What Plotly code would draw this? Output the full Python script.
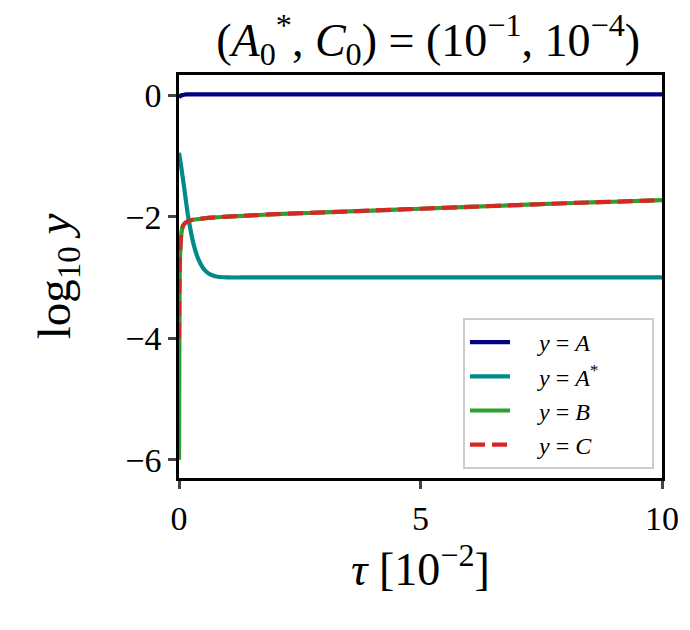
import plotly.graph_objects as go

tau = [0, 0.01, 0.02, 0.04, 0.06, 0.08, 0.1, 0.15, 0.2, 0.3, 0.4, 0.5, 0.6, 0.7,
       0.8, 1.0, 1.5, 2, 3, 4, 5, 6, 7, 8, 9, 10]
log_A = [-0.04, -0.03, -0.02, -0.01, 0.0, 0.0, 0.005, 0.01, 0.01, 0.01, 0.01, 0.01, 0.01, 0.01,
         0.01, 0.01, 0.01, 0.01, 0.01, 0.01, 0.01, 0.01, 0.01, 0.01, 0.01, 0.01]
log_Astar = [-0.95, -1.0, -1.05, -1.15, -1.26, -1.37, -1.48, -1.78, -2.05, -2.45, -2.7, -2.85, -2.93, -2.97,
             -2.99, -3.0, -3.0, -3.0, -3.0, -3.0, -3.0, -3.0, -3.0, -3.0, -3.0, -3.0]
log_B = [-6.0, -3.5, -2.7, -2.35, -2.22, -2.16, -2.13, -2.09, -2.07, -2.05, -2.04, -2.03, -2.02, -2.015,
         -2.01, -2.0, -1.98, -1.96, -1.93, -1.90, -1.87, -1.84, -1.81, -1.78, -1.755, -1.73]
log_C = [-4.0, -3.0, -2.65, -2.35, -2.22, -2.16, -2.13, -2.09, -2.07, -2.05, -2.04, -2.03, -2.02, -2.015,
         -2.01, -2.0, -1.98, -1.96, -1.93, -1.90, -1.87, -1.84, -1.81, -1.78, -1.755, -1.73]

FONT = "Liberation Serif"
LW = 4.2
PAD_L = "\u2002\u2002"
PAD_R = "\u2002\u2002\u2002\u2002"

fig = go.Figure()
fig.add_trace(go.Scatter(x=tau, y=log_A, mode="lines", name=PAD_L + "<i>y</i> = <i>A</i>" + PAD_R,
                         legendgroup="a",
                         line=dict(color="#000080", width=LW), line_shape="spline"))
fig.add_trace(go.Scatter(x=tau, y=log_Astar, mode="lines",
                         name=PAD_L + "<i>y</i> = <i>A</i><sup>*</sup>" + PAD_R,
                         legendgroup="b",
                         line=dict(color="#008B8B", width=LW), line_shape="spline"))
fig.add_trace(go.Scatter(x=tau, y=log_B, mode="lines", name=PAD_L + "<i>y</i> = <i>B</i>" + PAD_R,
                         legendgroup="c",
                         line=dict(color="#2ca02c", width=LW), line_shape="spline"))
fig.add_trace(go.Scatter(x=tau, y=log_C, mode="lines", name=PAD_L + "<i>y</i> = <i>C</i>" + PAD_R,
                         legendgroup="d",
                         line=dict(color="#d62728", width=LW, dash="15px,7px"), line_shape="spline"))

fig.update_layout(
    width=690, height=630,
    margin=dict(l=171, r=36, t=67, b=160),
    paper_bgcolor="white", plot_bgcolor="white",
    font=dict(family=FONT, color="black", size=34),
    title=dict(text="(<i>A</i><sub>0</sub><sup>*</sup>, <i>C</i><sub>0</sub>) = (10<sup>−1</sup>, 10<sup>−4</sup>)",
               x=0.609, xanchor="center", y=0.95, yanchor="middle",
               font=dict(family=FONT, size=46)),
    legend=dict(x=0.588, y=0.397, xanchor="left", yanchor="top",
                bgcolor="rgba(255,255,255,0.8)", bordercolor="#cccccc", borderwidth=2,
                font=dict(family=FONT, size=24), tracegroupgap=0, itemwidth=40),
    showlegend=True,
)
fig.update_xaxes(range=[0, 10], tickvals=[0, 5, 10], ticks="outside", ticklen=8, tickwidth=2.5,
                 showline=True, linecolor="black", linewidth=2.5, mirror=True, showgrid=False,
                 zeroline=False, tickfont=dict(size=34),
                 title=dict(text="<i>τ</i> [10<sup>−2</sup>]", font=dict(size=46), standoff=12))
fig.update_yaxes(range=[-6.3, 0.33], tickvals=[0, -2, -4, -6], ticktext=["0", "−2", "−4", "−6"],
                 ticks="outside", ticklen=8, tickwidth=2.5,
                 showline=True, linecolor="black", linewidth=2.5, mirror=True, showgrid=False,
                 zeroline=False, tickfont=dict(size=34),
                 title=dict(text="log<sub>10</sub> <i>y</i>", font=dict(size=47), standoff=40))

fig.write_html("out.html")
